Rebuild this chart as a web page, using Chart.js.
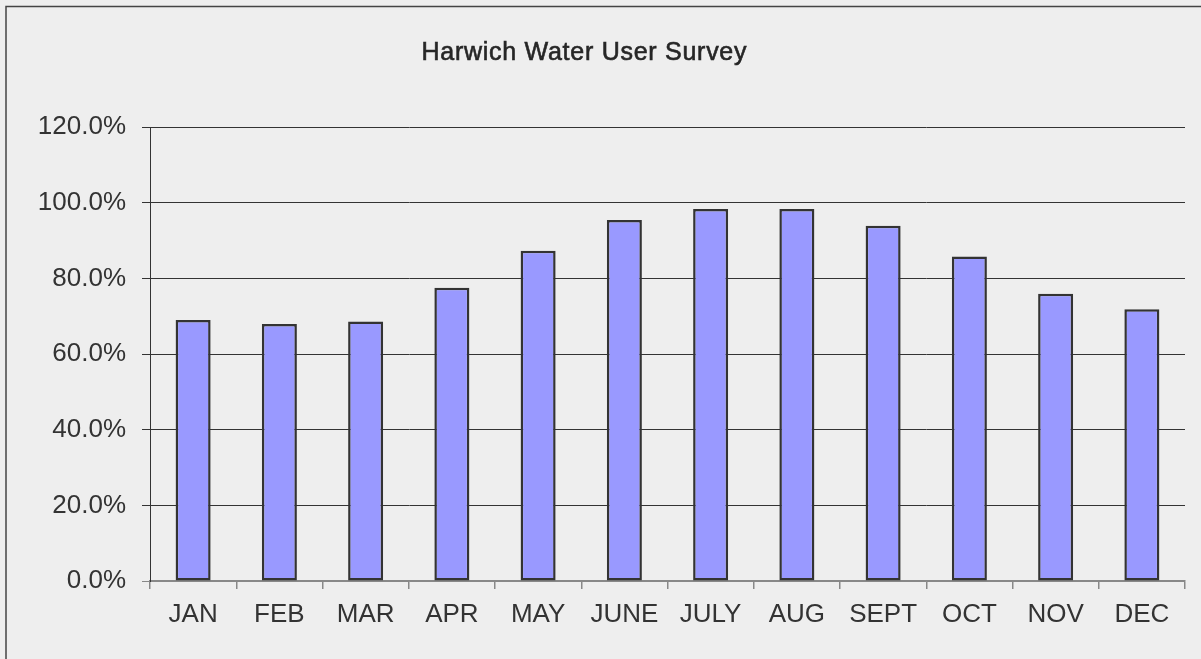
<!DOCTYPE html>
<html>
<head>
<meta charset="utf-8">
<script src="https://cdn.jsdelivr.net/npm/chart.js@4"></script>
<style>
  html, body { margin: 0; padding: 0; background: #eeeeee; }
  #wrap { width: 1201px; height: 659px; position: relative; }
</style>
</head>
<body>
<div id="wrap"><canvas id="c"></canvas></div>
<script>
const titleText = 'Harwich Water User Survey';
const months = ['JAN','FEB','MAR','APR','MAY','JUNE','JULY','AUG','SEPT','OCT','NOV','DEC'];
const percentUsers = [69.0, 67.9, 68.6, 77.5, 87.3, 95.4, 98.3, 98.3, 93.9, 85.8, 75.9, 71.8];
const yTicks = [0, 20, 40, 60, 80, 100, 120];

const frameAndTitle = {
  id: 'frameAndTitle',
  beforeDraw(chart) {
    const ctx = chart.ctx;
    ctx.save();
    ctx.fillStyle = '#eeeeee';
    ctx.fillRect(0, 0, chart.width, chart.height);
    ctx.strokeStyle = '#444444';
    ctx.lineWidth = 1.5;
    ctx.beginPath();
    ctx.moveTo(6, chart.height);
    ctx.lineTo(6, 6.5);
    ctx.lineTo(chart.width, 6.5);
    ctx.stroke();
    ctx.restore();
  },
  afterDraw(chart) {
    const ctx = chart.ctx;
    ctx.save();
    ctx.font = '25px "Liberation Sans", Arial, sans-serif';
    ctx.fillStyle = '#262626';
    ctx.strokeStyle = '#262626';
    ctx.lineWidth = 0.6;
    const target = 325;
    const w = ctx.measureText(titleText).width;
    const ls = Math.max(0, (target - w) / (titleText.length - 1));
    ctx.letterSpacing = ls.toFixed(2) + 'px';
    ctx.textAlign = 'center';
    ctx.textBaseline = 'alphabetic';
    ctx.fillText(titleText, 584 + ls / 2, 60);
    ctx.strokeText(titleText, 584 + ls / 2, 60);
    ctx.restore();
  }
};

new Chart(document.getElementById('c'), {
  type: 'bar',
  data: {
    labels: months,
    datasets: [{
      data: percentUsers,
      backgroundColor: '#9999ff',
      borderColor: '#333333',
      borderWidth: 2.5,
      borderSkipped: false,
      barPercentage: 0.406,
      categoryPercentage: 1.0
    }]
  },
  options: {
    responsive: true,
    maintainAspectRatio: false,
    animation: false,
    layout: { padding: { top: 127, right: 16, bottom: 0, left: 0 } },
    plugins: {
      legend: { display: false },
      title: { display: false },
      tooltip: { enabled: false }
    },
    scales: {
      x: {
        offset: true,
        grid: {
          offset: true,
          drawOnChartArea: false,
          drawTicks: true,
          tickLength: 8,
          color: '#888888',
          lineWidth: 1.5
        },
        border: { display: true, color: '#888888', width: 1.5 },
        ticks: {
          color: '#333333',
          font: { family: '"Liberation Sans", Arial, sans-serif', size: 26 },
          padding: 10,
          maxRotation: 0,
          autoSkip: false
        },
        afterFit(scale) { scale.height = 78; }
      },
      y: {
        min: 0,
        max: 120,
        afterBuildTicks(scale) { scale.ticks = yTicks.map(v => ({ value: v })); },
        grid: {
          color: (c) => (c.tick && c.tick.value === 0) ? '#888888' : '#333333',
          lineWidth: 1,
          drawTicks: true,
          tickLength: 8
        },
        border: { display: true, color: '#333333', width: 1 },
        ticks: {
          color: '#333333',
          font: { family: '"Liberation Sans", Arial, sans-serif', size: 26 },
          padding: 16,
          callback: (v) => Number(v).toFixed(1) + '%'
        },
        afterFit(scale) { scale.width = 150; }
      }
    }
  },
  plugins: [frameAndTitle]
});
</script>
</body>
</html>
